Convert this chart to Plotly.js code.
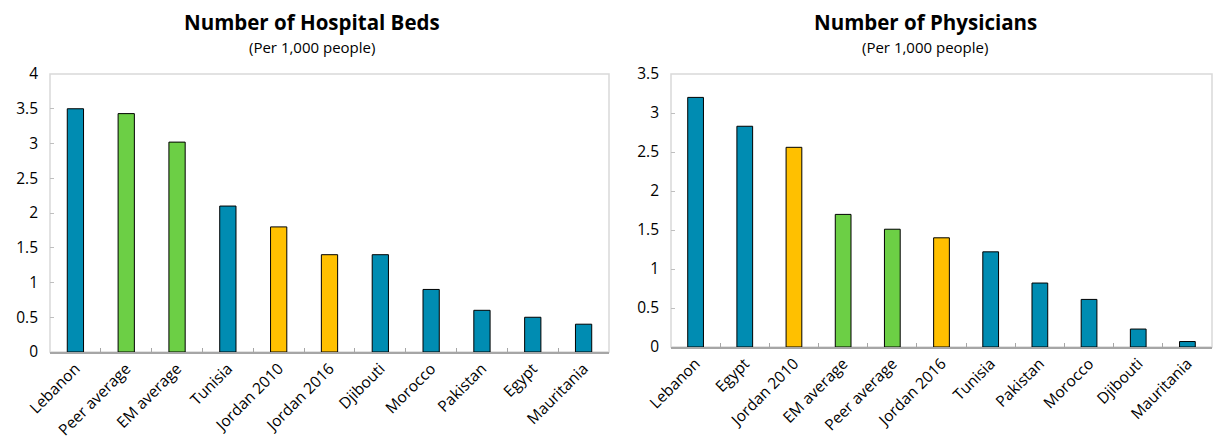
<!DOCTYPE html>
<html><head><meta charset="utf-8">
<script src="https://cdn.plot.ly/plotly-3.0.1.min.js"></script>
<style>html,body{margin:0;padding:0;background:#fff}#chart{width:1214px;height:442px}</style>
</head><body><div id="chart"></div>
<script>
const bedsCategories = ["Lebanon","Peer average","EM average","Tunisia","Jordan 2010","Jordan 2016","Djibouti","Morocco","Pakistan","Egypt","Mauritania"];
const bedsValues = [3.5,3.43,3.02,2.1,1.8,1.4,1.4,0.9,0.6,0.5,0.4];
const physCategories = ["Lebanon","Egypt","Jordan 2010","EM average","Peer average","Jordan 2016","Tunisia","Pakistan","Morocco","Djibouti","Mauritania"];
const physValues = [3.2,2.83,2.56,1.7,1.51,1.4,1.22,0.82,0.61,0.23,0.07];
const bedsTicks = [0,0.5,1,1.5,2,2.5,3,3.5,4];
const physTicks = [0,0.5,1,1.5,2,2.5,3,3.5];

const TEAL = "#008CB2", GREEN = "#6CCF45", YELLOW = "#FFC000";
function colorFor(c){
  if (c.indexOf("average")>=0) return GREEN;
  if (c.indexOf("Jordan")>=0) return YELLOW;
  return TEAL;
}
const FONT = "Open Sans, Noto Sans, sans-serif";

const traces = [
  {type:"bar", x:bedsCategories, y:bedsValues, xaxis:"x", yaxis:"y", width:0.32,
   marker:{color:bedsCategories.map(colorFor), line:{color:"#000", width:1}}, hoverinfo:"x+y"},
  {type:"bar", x:physCategories, y:physValues, xaxis:"x2", yaxis:"y2", width:0.32,
   marker:{color:physCategories.map(colorFor), line:{color:"#000", width:1}}, hoverinfo:"x+y"}
];

const xCommon = {type:"category", showline:true, linecolor:"#A6A6A6", linewidth:1.5,
  ticks:"inside", tickson:"boundaries", ticklen:4, tickcolor:"#A6A6A6",
  tickangle:-45, tickfont:{family:FONT, size:15.5, color:"#000"}, showgrid:false, zeroline:false, fixedrange:true};
const yCommon = {showline:false, ticks:"inside", ticklen:4, tickcolor:"#BFBFBF", ticklabelstandoff:11,
  tickfont:{family:FONT, size:15.5, color:"#000"}, showgrid:false, zeroline:false, fixedrange:true};

const layout = {
  width:1214, height:442, margin:{l:0,r:0,t:0,b:0}, paper_bgcolor:"#fff", plot_bgcolor:"#fff",
  showlegend:false, bargap:0.68,
  xaxis:Object.assign({}, xCommon, {domain:[50/1214, 609/1214], anchor:"y"}),
  yaxis:Object.assign({}, yCommon, {domain:[1-352/442, 1-74/442], range:[0,4], tickvals:bedsTicks, ticktext:bedsTicks.map(String), anchor:"x"}),
  xaxis2:Object.assign({}, xCommon, {domain:[671/1214, 1212/1214], anchor:"y2"}),
  yaxis2:Object.assign({}, yCommon, {domain:[1-347/442, 1-74/442], range:[0,3.5], tickvals:physTicks, ticktext:physTicks.map(String), anchor:"x2"}),
  shapes:[
    {type:"rect", xref:"x domain", yref:"y domain", x0:0, x1:1, y0:0, y1:1, line:{color:"#D9D9D9", width:1.5}, layer:"below"},
    {type:"rect", xref:"x2 domain", yref:"y2 domain", x0:0, x1:1, y0:0, y1:1, line:{color:"#D9D9D9", width:1.5}, layer:"below"}
  ],
  annotations:[
    {xref:"paper", yref:"paper", x:312/1214, y:1-22/442, text:"<b>Number of Hospital Beds</b>", showarrow:false, font:{family:FONT, size:20.5, color:"#000"}, xanchor:"center", yanchor:"middle"},
    {xref:"paper", yref:"paper", x:312/1214, y:1-47/442, text:"(Per 1,000 people)", showarrow:false, font:{family:FONT, size:15, color:"#000"}, xanchor:"center", yanchor:"middle"},
    {xref:"paper", yref:"paper", x:925/1214, y:1-22/442, text:"<b>Number of Physicians</b>", showarrow:false, font:{family:FONT, size:20.5, color:"#000"}, xanchor:"center", yanchor:"middle"},
    {xref:"paper", yref:"paper", x:925/1214, y:1-47/442, text:"(Per 1,000 people)", showarrow:false, font:{family:FONT, size:15, color:"#000"}, xanchor:"center", yanchor:"middle"}
  ]
};
Plotly.newPlot("chart", traces, layout, {displayModeBar:false, staticPlot:true});
</script></body></html>
